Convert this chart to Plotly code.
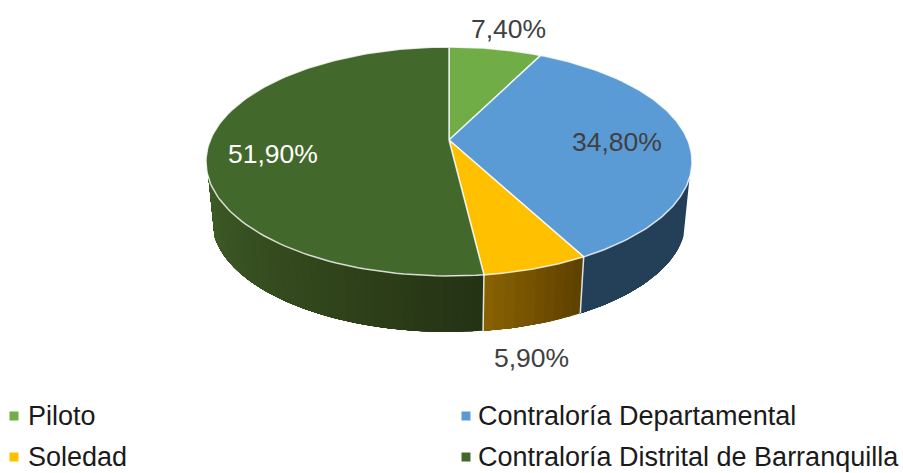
import numpy as np
import plotly.graph_objects as go

categories = ["Piloto", "Contraloría Departamental", "Soledad", "Contraloría Distrital de Barranquilla"]
values = [7.4, 34.8, 5.9, 51.9]
top_colors = ["#70AD47", "#5B9BD5", "#FFC000", "#43682B"]
label_colors = ["#404040", "#404040", "#404040", "#FFFFFF"]

W, H = 903, 473
# Oblique-perspective projection of the pie disc, in pixels
CX, CY, BX, AY, K = 449, 140, 238.7, 110.5, 0.1877
DEPTH, SCALE = 59.4, 0.975
SIDE_START, SIDE_END = 108.8, 251.2
LABEL_POS = [(508, 29), (617, 142), (531, 358), (273, 154)]
LEGEND_POS = [(14, 416), (466, 416), (14, 457), (466, 457)]
LEGEND_TEXT_DX = [12, 10, 12, 10]
# side shading stops: (angle-fraction within visible slice part, colour)
SIDE_SHADE = {
    1: [(0, (36, 63, 88)), (1, (36, 63, 88))],
    2: [(0, (92, 64, 0)), (1, (138, 98, 2))],
    3: [(0, (36, 50, 20)), (0.45, (50, 70, 28)), (1, (62, 92, 38))],
}


def top_pt(t):
    t = np.radians(t)
    x, y = np.sin(t), np.cos(t)
    d = 1 + K * y
    return CX + BX * x / d, CY - AY * y / d


def low_pt(t):
    px, py = top_pt(t)
    return CX + (px - CX) * SCALE, CY + DEPTH + (py - CY) * SCALE


def shade(stops, f):
    for (a, c0), (b, c1) in zip(stops, stops[1:]):
        if f <= b:
            u = (f - a) / (b - a)
            c = [round(p + (q - p) * u) for p, q in zip(c0, c1)]
            return f"rgb({c[0]},{c[1]},{c[2]})"
    c = stops[-1][1]
    return f"rgb({c[0]},{c[1]},{c[2]})"


fig = go.Figure()


def poly(xs, ys, fill, line=None, width=1.0):
    fig.add_trace(go.Scatter(
        x=list(xs), y=list(ys), mode="lines", fill="toself", fillcolor=fill,
        line=dict(color=line or fill, width=width), hoverinfo="skip", showlegend=False))


edges = np.concatenate([[0], np.cumsum(values)]) * 3.6

# side wall, painted back to front as overlapping shaded bands (no seams)
for i in range(len(values)):
    a0, a1 = max(edges[i], SIDE_START), min(edges[i + 1], SIDE_END)
    if a1 <= a0:
        continue
    n = max(4, int((a1 - a0) / 2.0))
    ts = np.linspace(a0, a1, n + 1)
    for j in range(n):
        q = np.linspace(ts[j], a1, max(3, (n - j) * 2))
        tx, ty = top_pt(q)
        lx, ly = low_pt(q[::-1])
        poly(np.r_[tx, lx, tx[0]], np.r_[ty, ly, ty[0]],
             shade(SIDE_SHADE[i], (j + 0.5) / n), width=0)

# white seams on the side wall
for t in edges[1:-1]:
    if SIDE_START < t < SIDE_END:
        x0, y0 = top_pt(t)
        x1, y1 = low_pt(t)
        fig.add_trace(go.Scatter(x=[x0, x1], y=[y0, y1], mode="lines",
                                 line=dict(color="rgba(255,255,255,0.85)", width=1.5),
                                 hoverinfo="skip", showlegend=False))

# top face
for i, c in enumerate(top_colors):
    ts = np.linspace(edges[i], edges[i + 1], 120)
    x, y = top_pt(ts)
    poly(np.r_[CX, x, CX], np.r_[CY, y, CY], c, "rgba(255,255,255,0.8)", 1.5)

# legend swatches
fig.add_trace(go.Scatter(
    x=[p[0] for p in LEGEND_POS], y=[p[1] for p in LEGEND_POS], mode="markers",
    marker=dict(symbol="square", size=9, color=top_colors),
    hoverinfo="skip", showlegend=False))

ann = []
for v, p, c in zip(values, LABEL_POS, label_colors):
    ann.append(dict(x=p[0], y=p[1], text=f"{v:.2f}%".replace(".", ","), showarrow=False,
                    xanchor="center", yanchor="middle",
                    font=dict(family="Liberation Sans", size=26.5, color=c)))
for name, p, dx in zip(categories, LEGEND_POS, LEGEND_TEXT_DX):
    ann.append(dict(x=p[0] + dx, y=p[1], text=name, showarrow=False,
                    xanchor="left", yanchor="middle",
                    font=dict(family="Liberation Sans", size=27, color="#1a1a1a")))

fig.update_layout(
    width=W, height=H, margin=dict(l=0, r=0, t=0, b=0),
    paper_bgcolor="white", plot_bgcolor="white", showlegend=False, annotations=ann,
    xaxis=dict(range=[0, W], visible=False, fixedrange=True),
    yaxis=dict(range=[H, 0], visible=False, fixedrange=True),
)
fig.write_html("out.html", config={"displayModeBar": False},
               post_script="document.body.style.margin='0';document.body.style.overflow='hidden';")
